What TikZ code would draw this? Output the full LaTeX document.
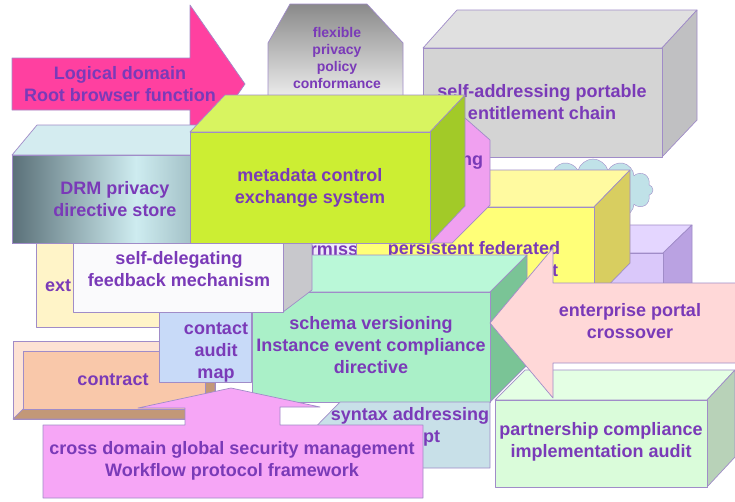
\documentclass[tikz,border=0pt]{standalone}
\usepackage{fontspec}
\setmainfont{Liberation Sans}
\usetikzlibrary{shapes.symbols}
\definecolor{txt}{RGB}{122,58,184}
\definecolor{edge}{RGB}{160,140,200}
\definecolor{flexTop}{RGB}{138,138,138}
\definecolor{grayFront}{RGB}{212,212,212}
\definecolor{grayTop}{RGB}{224,224,224}
\definecolor{grayRight}{RGB}{192,192,194}
\definecolor{logicalPink}{RGB}{255,64,160}
\definecolor{cloudBlue}{RGB}{192,226,232}
\definecolor{pinkBox}{RGB}{240,160,240}
\definecolor{lavFront}{RGB}{218,200,250}
\definecolor{lavTop}{RGB}{228,214,255}
\definecolor{lavRight}{RGB}{186,162,226}
\definecolor{permBg}{RGB}{238,234,250}
\definecolor{yelFront}{RGB}{255,255,120}
\definecolor{yelTop}{RGB}{255,250,160}
\definecolor{yelRight}{RGB}{216,206,96}
\definecolor{extBg}{RGB}{255,244,200}
\definecolor{conLight}{RGB}{253,226,212}
\definecolor{conFace}{RGB}{249,200,170}
\definecolor{conDark}{RGB}{194,152,120}
\definecolor{blueBox}{RGB}{200,218,248}
\definecolor{schFront}{RGB}{170,240,200}
\definecolor{schTop}{RGB}{186,248,216}
\definecolor{schRight}{RGB}{122,196,150}
\definecolor{selfFront}{RGB}{250,250,252}
\definecolor{selfRight}{RGB}{200,200,204}
\definecolor{drmL}{RGB}{90,112,120}
\definecolor{drmM}{RGB}{206,236,240}
\definecolor{drmR}{RGB}{110,140,148}
\definecolor{drmTop}{RGB}{212,236,240}
\definecolor{grnFront}{RGB}{204,238,51}
\definecolor{grnTop}{RGB}{216,244,96}
\definecolor{grnRight}{RGB}{162,202,40}
\definecolor{syntaxBg}{RGB}{200,224,232}
\definecolor{parFront}{RGB}{218,252,218}
\definecolor{parTop}{RGB}{228,255,228}
\definecolor{parRight}{RGB}{184,210,184}
\definecolor{entPink}{RGB}{255,216,216}
\definecolor{callPink}{RGB}{246,166,246}
\begin{document}
\begin{tikzpicture}[x=1pt,y=-1pt,
  face/.style={draw=edge, line width=0.7pt, line join=round},
  lbl/.style={text=txt, font=\bfseries\fontsize{18}{22}\selectfont, align=center, inner sep=0pt},
  smalllbl/.style={text=txt, font=\bfseries\fontsize{14}{17}\selectfont, align=center, inner sep=0pt}]
\useasboundingbox (0,0) rectangle (735,501);
\fill[white] (0,0) rectangle (735,501);

% flexible privacy policy conformance
\shade[top color=flexTop, bottom color=white] (290,4) -- (367,4) -- (403,43) -- (403,115) -- (268,115) -- (268,43) -- cycle;
\draw[face] (290,4) -- (367,4) -- (403,43) -- (403,115) -- (268,115) -- (268,43) -- cycle;
\node[smalllbl] (flexT) at (337,58) {flexible\\privacy\\policy\\conformance};

% gray box
\draw[face, fill=grayTop] (423,48) -- (457,10) -- (697,10) -- (662,48) -- cycle;
\draw[face, fill=grayRight] (662,48) -- (697,10) -- (697,120) -- (662,157) -- cycle;
\draw[face, fill=grayFront] (423,48) rectangle (662,157);
\node[lbl] (grayT) at (542,102) {self-addressing portable\\entitlement chain};

% logical domain arrow
\draw[face, fill=logicalPink] (12,58) -- (190,58) -- (190,5) -- (245,84) -- (190,163) -- (190,110) -- (12,110) -- cycle;
\node[lbl] (logicT) at (120,84) {Logical domain\\Root browser function};

% cloud
\node[cloud, draw=edge, fill=cloudBlue, cloud puffs=12, minimum width=120pt, minimum height=62pt, aspect=2] (cloudN) at (593,190) {};

% lavender box
\draw[face, fill=lavTop] (560,253) -- (589,225) -- (692,225) -- (663,253) -- cycle;
\draw[face, fill=lavRight] (663,253) -- (692,225) -- (692,312) -- (663,340) -- cycle;
\draw[face, fill=lavFront] (560,253) rectangle (663,340);

% permission box
\draw[face, fill=permBg] (290,222) rectangle (380,300);
\node[lbl] (permT) at (337,251) {permission};

% yellow box
\draw[face, fill=yelTop] (356,207) -- (392,170) -- (630,170) -- (594,207) -- cycle;
\draw[face, fill=yelRight] (594,207) -- (630,170) -- (630,263) -- (594,300) -- cycle;
\draw[face, fill=yelFront] (356,207) rectangle (594,300);
\node[lbl] (yelT) at (474,250) {persistent federated};
\node[lbl] (yelT2) at (555,271) {t};

% pink box
\draw[face, fill=pinkBox] (400,118) -- (465,118) -- (490,140) -- (490,205) -- (452,243) -- (400,243) -- cycle;
\node[lbl] (pinkT) at (472,163) {ng};

% ext box
\draw[face, fill=extBg] (36,200) rectangle (200,327);
\node[lbl, anchor=west] (extT) at (45,286) {ext};

% contract box
\draw[face, fill=conLight] (13,341) rectangle (215,419);
\draw[face, fill=conDark] (13,419) -- (215,419) -- (205,409) -- (23,409) -- cycle;
\draw[face, fill=conDark] (215,341) -- (215,419) -- (205,409) -- (205,351) -- cycle;
\draw[face, fill=conFace] (23,351) rectangle (205,409);
\node[lbl] (conT) at (113,380) {contract};

% contact audit map box
\draw[face, fill=blueBox] (159,290) rectangle (251,382);
\node[lbl] (blueT) at (216,352) {contact\\audit\\map};

% schema versioning box
\draw[face, fill=schTop] (252,292) -- (289,255) -- (527,255) -- (490,292) -- cycle;
\draw[face, fill=schRight] (490,292) -- (527,255) -- (527,365) -- (490,402) -- cycle;
\draw[face, fill=schFront] (252,292) rectangle (490,402);
\node[lbl] (schT) at (371,345) {schema versioning\\Instance event compliance\\directive};

% self-delegating box
\draw[face, fill=selfRight] (283,224) -- (312,200) -- (312,290) -- (283,312) -- cycle;
\draw[face, fill=selfFront] (73,224) rectangle (283,312);
\node[lbl] (selfT) at (179,269) {self-delegating\\feedback mechanism};

% DRM box
\draw[face, fill=drmTop] (12,155) -- (37,125) -- (285,125) -- (260,155) -- cycle;
\shade[left color=drmL, right color=drmR, middle color=drmM] (12,155) rectangle (260,243);
\draw[face] (12,155) rectangle (260,243);
\node[lbl] (drmT) at (115,199) {DRM privacy\\directive store};

% metadata control box
\draw[face, fill=grnTop] (190,132) -- (225,95) -- (465,95) -- (430,132) -- cycle;
\draw[face, fill=grnRight] (430,132) -- (465,95) -- (465,206) -- (430,243) -- cycle;
\draw[face, fill=grnFront] (190,132) rectangle (430,243);
\node[lbl] (grnT) at (310,188) {metadata control\\exchange system};

% syntax addressing box
\draw[face, fill=syntaxBg] (298,445) -- (340,402) -- (490,402) -- (490,468) -- (298,468) -- cycle;
\node[lbl] (synT) at (410,416) {syntax addressing};
\node[lbl, anchor=west] (synT2) at (423,438) {pt};

% partnership box
\draw[face, fill=parTop] (495,400) -- (525,370) -- (735,370) -- (707,400) -- cycle;
\draw[face, fill=parRight] (707,400) -- (735,370) -- (735,457) -- (707,487) -- cycle;
\draw[face, fill=parFront] (495,400) rectangle (707,487);
\node[lbl] (parT) at (601,442) {partnership compliance\\implementation audit};

% enterprise portal arrow
\draw[face, fill=entPink] (736,283) -- (553,283) -- (553,248) -- (490,323) -- (553,398) -- (553,363) -- (736,363);
\node[lbl] (entT) at (630,321) {enterprise portal\\crossover};

% cross domain callout
\draw[face, fill=callPink] (43,425) -- (185,425) -- (185,408) -- (138,408) -- (231,388) -- (320,407) -- (280,407) -- (280,425) -- (423,425) -- (423,498) -- (43,498) -- cycle;
\node[lbl] (callT) at (232,461) {cross domain global security management\\Workflow protocol framework};
\end{tikzpicture}
\end{document}
